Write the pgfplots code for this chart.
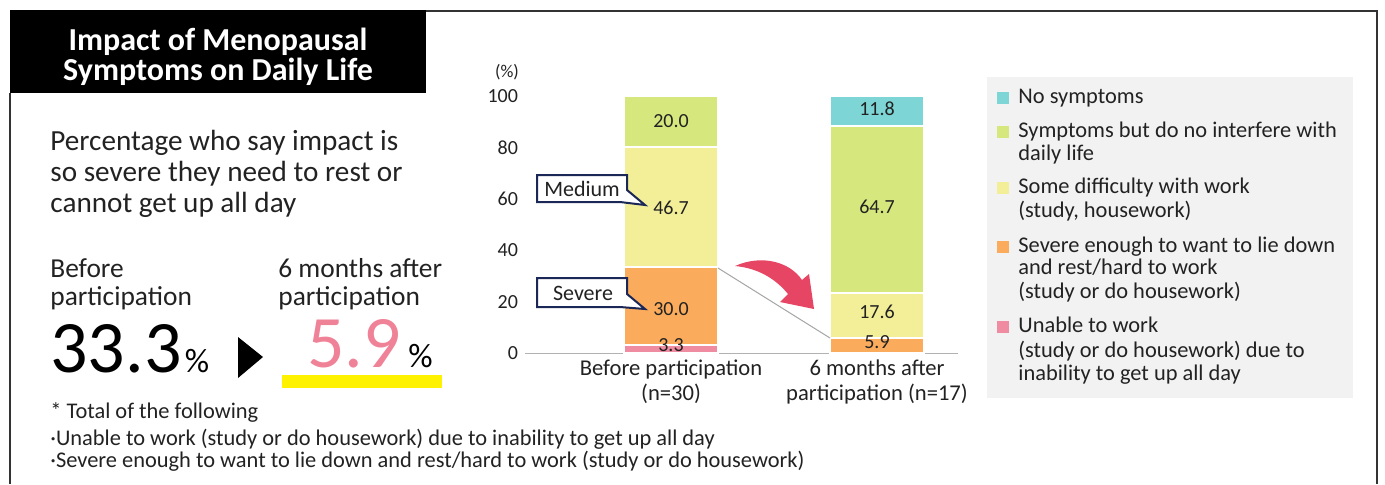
\documentclass[border=0pt]{standalone}
\usepackage{pgfplots}
\pgfplotsset{compat=1.18}
\usepackage{fontspec}
\setmainfont{Carlito}
\definecolor{cteal}{RGB}{125,213,213}
\definecolor{cgreen}{RGB}{214,232,125}
\definecolor{cyellow}{RGB}{243,238,152}
\definecolor{corange}{RGB}{250,172,92}
\definecolor{cpink}{RGB}{240,140,162}
\definecolor{bigpink}{RGB}{240,130,152}
\definecolor{arrowred}{RGB}{230,70,100}
\definecolor{navy}{RGB}{27,39,87}
\definecolor{hilite}{RGB}{255,242,0}
\definecolor{txt}{RGB}{34,34,34}
\newcommand{\fs}[2]{\fontsize{#1}{#2}\selectfont}

\begin{document}
\begin{tikzpicture}[x=0.5pt,y=0.5pt]
\path[use as bounding box] (0,0) rectangle (1385,-484);

% frame and title box
\fill[black] (10,-10) rectangle (426,-93);
\draw[line width=1pt, black!80] (426,-11) -- (1377,-11) -- (1377,-484);
\draw[line width=1pt, black!80] (10,-93) -- (10,-484);
\node[anchor=base, text=white, font=\fs{16}{18}\bfseries] at (218,-50) {Impact of Menopausal};
\node[anchor=base, text=white, font=\fs{16}{18}\bfseries] at (218,-80) {Symptoms on Daily Life};

% left text
\begin{scope}[every node/.style={inner sep=0pt}]
\node[anchor=base west, text=txt, font=\fs{14.6}{15}] at (50,-150) {Percentage who say impact is};
\node[anchor=base west, text=txt, font=\fs{14.6}{15}] at (50,-181) {so severe they need to rest or};
\node[anchor=base west, text=txt, font=\fs{14.6}{15}] at (50,-212) {cannot get up all day};
\node[anchor=base west, text=txt, font=\fs{13.7}{15}] at (50,-277) {Before};
\node[anchor=base west, text=txt, font=\fs{13.7}{15}] at (50,-305) {participation};
\node[anchor=base west, text=txt, font=\fs{13.7}{15}] at (278,-277) {6 months after};
\node[anchor=base west, text=txt, font=\fs{13.7}{15}] at (278,-305) {participation};

\node[anchor=base west, text=black] at (50,-372) {{\fs{37}{37}33.3}\,{\fs{17}{17}\%}};
\fill[black] (238,-337) -- (263,-357) -- (238,-378) -- cycle;
\fill[hilite] (282,-375) rectangle (442,-388);
\node[anchor=base west, text=bigpink] at (307,-367) {\fs{37}{37}5.9};
\node[anchor=base west, text=black] at (408,-367) {\fs{17}{17}\%};

\node[anchor=base west, text=txt, font=\fs{11.2}{12}] at (50,-418) {* Total of the following};
\node[anchor=base west, text=txt, font=\fs{11.2}{12}] at (50,-445) {·Unable to work (study or do housework) due to inability to get up all day};
\node[anchor=base west, text=txt, font=\fs{11.2}{12}] at (50,-467) {·Severe enough to want to lie down and rest/hard to work (study or do housework)};
\end{scope}

% chart
\begin{axis}[
    at={(262.5pt,-176.5pt)}, anchor=south west,
    scale only axis, width=216.5pt, height=128.5pt,
    ybar stacked, bar width=47pt,
    xmin=-0.709, xmax=1.393, ymin=0, ymax=100,
    enlargelimits=false, clip=false,
    axis x line*=bottom, axis y line*=left,
    x axis line style={draw=gray!60, -},
    y axis line style={draw=none},
    major tick length=0pt,
    /pgf/number format/assume math mode=true,
    xtick={0,1},
    xticklabels={Before participation\\(n=30), 6 months after\\participation (n=17)},
    xticklabel style={align=center, font=\fs{11.3}{12.5}, text=txt},
    ytick={0,20,40,60,80,100},
    yticklabel style={font=\fs{10}{10}, text=txt},
]
\addplot[fill=cpink, draw=white, line width=1pt] coordinates {(0,3.3) (1,0)};
\addplot[fill=corange, draw=white, line width=1pt] coordinates {(0,30.0) (1,5.9)};
\addplot[fill=cyellow, draw=white, line width=1pt] coordinates {(0,46.7) (1,17.6)};
\addplot[fill=cgreen, draw=white, line width=1pt] coordinates {(0,20.0) (1,64.7)};
\addplot[fill=cteal, draw=white, line width=1pt] coordinates {(0,0) (1,11.8)};
\end{axis}

% segment values (before: x=671, after: x=877)
\begin{scope}[every node/.style={font=\fs{10}{10}, text=txt}]
\node at (671,-345) {3.3};
\node at (671,-309) {30.0};
\node at (671,-208) {46.7};
\node at (671,-121) {20.0};
\node at (877,-342) {5.9};
\node at (877,-312) {17.6};
\node at (877,-207) {64.7};
\node at (877,-109) {11.8};
\end{scope}

\node[font=\fs{9}{10}, text=txt] at (507,-72) {(\%)};

% connector and arrow
\draw[gray!70, line width=0.5pt] (718,-268) -- (830,-338);
\fill[arrowred] (735,-266) .. controls (762,-254) and (790,-262) .. (802,-280)
   -- (809,-274) -- (814,-309) -- (780,-302) -- (788,-294)
   .. controls (775,-278) and (757,-268) .. (735,-266) -- cycle;

% callouts
\filldraw[fill=white, draw=navy, line width=1pt] (537,-175) -- (627,-175) -- (627,-190) -- (645,-205) -- (620,-202) -- (537,-202) -- cycle;
\node[font=\fs{11}{12}, text=txt] at (582,-189) {Medium};
\filldraw[fill=white, draw=navy, line width=1pt] (537,-278) -- (627,-278) -- (627,-294) -- (645,-309) -- (620,-307) -- (537,-307) -- cycle;
\node[font=\fs{11}{12}, text=txt] at (583,-293) {Severe};

% legend
\fill[black!5] (987,-77) rectangle (1353,-398);
\begin{scope}[every node/.style={inner sep=0pt, anchor=base west, text=txt, font=\fs{11.2}{12}}]
\fill[cteal] (997,-92) rectangle (1009,-104);
\node at (1018,-103) {No symptoms};
\fill[cgreen] (997,-126) rectangle (1009,-138);
\node at (1018,-137) {Symptoms but do no interfere with};
\node at (1018,-160) {daily life};
\fill[cyellow] (997,-182) rectangle (1009,-194);
\node at (1018,-193) {Some difficulty with work};
\node at (1018,-217) {(study, housework)};
\fill[corange] (997,-241) rectangle (1009,-253);
\node at (1018,-252) {Severe enough to want to lie down};
\node at (1018,-274) {and rest/hard to work};
\node at (1018,-298) {(study or do housework)};
\fill[cpink] (997,-321) rectangle (1009,-333);
\node at (1018,-332) {Unable to work};
\node at (1018,-357) {(study or do housework) due to};
\node at (1018,-380) {inability to get up all day};
\end{scope}
\end{tikzpicture}
\end{document}
